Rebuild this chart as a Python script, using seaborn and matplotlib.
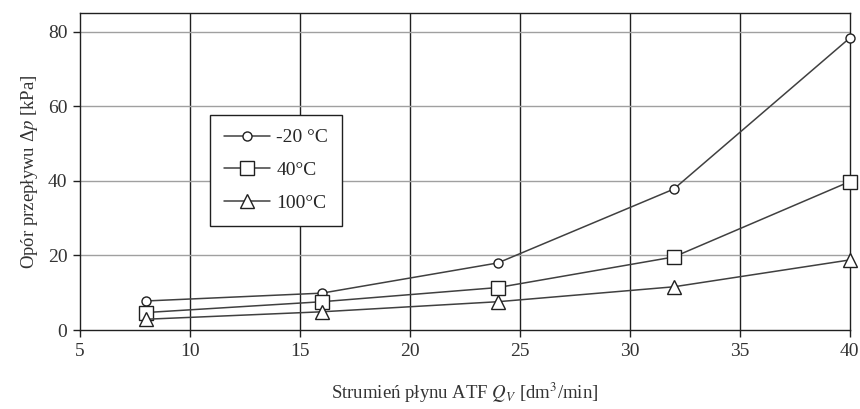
import matplotlib.pyplot as plt
import numpy as np
import seaborn as sns

sns.set_style("white")
plt.rcParams['font.family'] = ['Liberation Serif', 'DejaVu Serif']
plt.rcParams['mathtext.fontset'] = 'stix'

# dane
flow = [8, 16, 24, 32, 40]
dp_m20 = [7.8, 9.9, 18.0, 37.8, 78.3]
dp_40 = [4.7, 7.6, 11.4, 19.6, 39.8]
dp_100 = [2.9, 4.9, 7.6, 11.6, 18.8]
labels = ['-20 °C', '40°C', '100°C']
markers = ['o', 's', '^']
msizes = [6.5, 10, 10]

fig = plt.figure(figsize=(8.6, 4.09), dpi=100)
ax = fig.add_axes([0.093, 0.193, 0.895, 0.775])

for ys, lab, mk, ms in zip([dp_m20, dp_40, dp_100], labels, markers, msizes):
    sns.lineplot(x=flow, y=ys, ax=ax, color='#404040', lw=1.1, marker=mk,
                 markersize=ms, markerfacecolor='white', markeredgecolor='#202020',
                 markeredgewidth=1.0, label=lab, clip_on=False, zorder=3)

ax.set_xlim(5, 40)
ax.set_ylim(0, 85)
ax.set_xticks(np.arange(5, 41, 5))
ax.set_yticks([0, 20, 40, 60, 80])

# siatka: pionowa czarna, pozioma szara
for xv in range(10, 40, 5):
    ax.axvline(xv, color='#202020', lw=1.0, zorder=1)
for yv in [20, 40, 60, 80]:
    ax.axhline(yv, color='#a0a0a0', lw=1.0, zorder=1)

for s in ax.spines.values():
    s.set_color('#202020')
    s.set_linewidth(1.0)
ax.tick_params(direction='out', length=5, width=1.0, color='#202020',
               labelsize=14, labelcolor='#333333', pad=4,
               bottom=True, left=True)

ax.set_ylabel('Opór przepływu Δ$p$ [kPa]', fontsize=13.5, color='#333333',
              labelpad=6)
ax.set_xlabel('Strumień płynu ATF $Q_V$ [dm$^3$/min]', fontsize=13.5,
              color='#333333', labelpad=15)

leg = ax.legend(loc='upper left', bbox_to_anchor=(0.169, 0.678), fontsize=14,
                frameon=True, fancybox=False, edgecolor='#202020',
                handlelength=2.4, labelspacing=0.78, borderpad=0.7,
                handletextpad=0.3, borderaxespad=0)
leg.get_frame().set_linewidth(1.0)
leg.get_frame().set_alpha(1)

plt.savefig('out.png', dpi=100)
